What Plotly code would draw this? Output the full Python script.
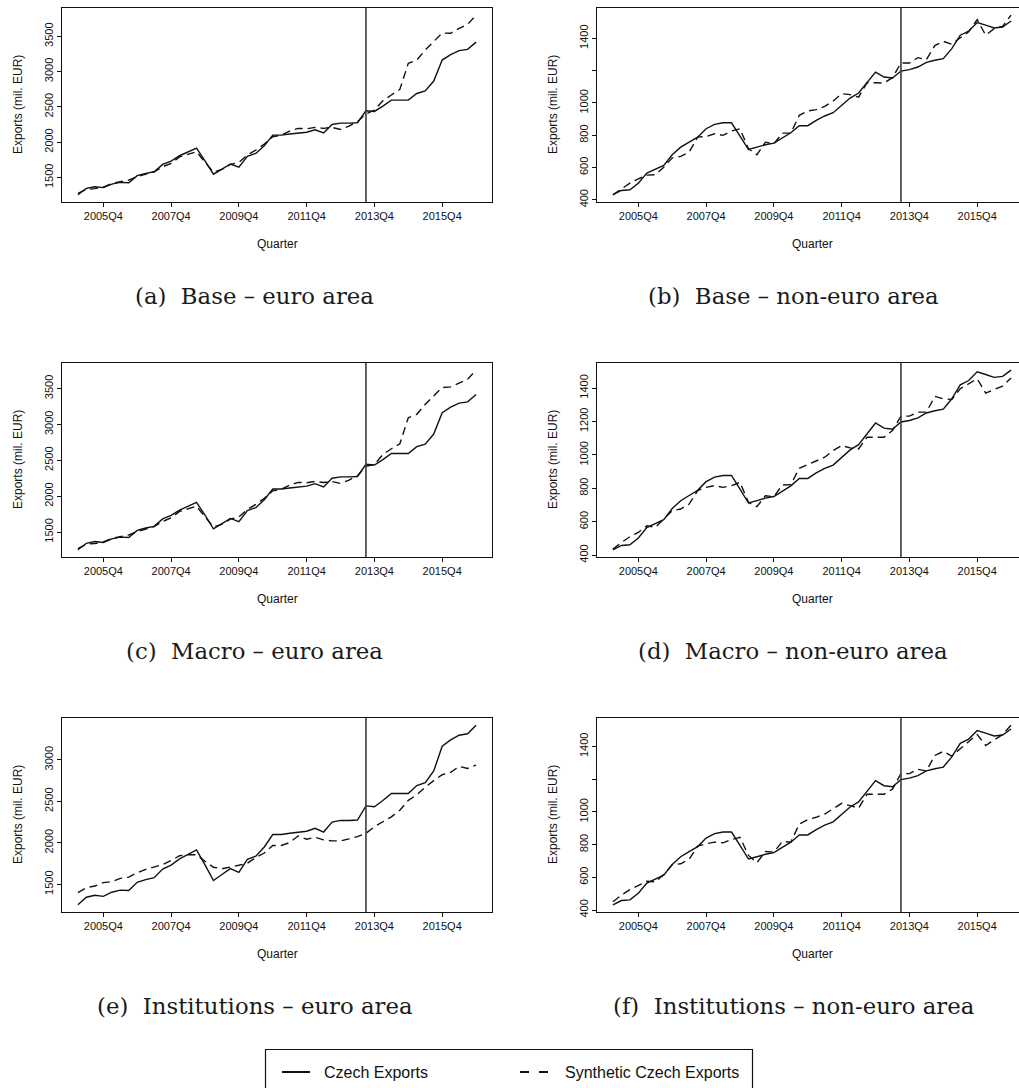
import plotly.graph_objects as go

W, H = 1019, 1088

# Quarterly time axis, 2005Q1 - 2016Q4
quarters = [f"{y}Q{q}" for y in range(2005, 2017) for q in range(1, 5)]
tick_quarters = ["2005Q4", "2007Q4", "2009Q4", "2011Q4", "2013Q4", "2015Q4"]
treatment_quarter = "2013Q3"

# Czech exports (mil. EUR)
czech_euro = [1253, 1344, 1368, 1355, 1405, 1430, 1425, 1524, 1557, 1580, 1684, 1732,
              1807, 1864, 1915, 1735, 1545, 1618, 1690, 1645, 1800, 1840, 1950, 2100,
              2100, 2115, 2125, 2140, 2175, 2130, 2250, 2270, 2270, 2275, 2445, 2435,
              2510, 2595, 2595, 2595, 2690, 2725, 2866, 3164, 3240, 3297, 3315, 3418]
czech_noneuro = [432, 458, 462, 503, 565, 588, 613, 679, 726, 757, 788, 840,
                 867, 877, 877, 795, 712, 726, 741, 751, 784, 815, 859, 859,
                 892, 919, 939, 985, 1030, 1061, 1123, 1191, 1160, 1154, 1197, 1206,
                 1222, 1251, 1264, 1274, 1336, 1419, 1445, 1497, 1481, 1464, 1470, 1507]

# Synthetic Czech exports (mil. EUR)
synth_base_euro = [1273, 1330, 1340, 1363, 1415, 1440, 1462, 1510, 1547, 1580, 1650, 1700,
                   1790, 1830, 1864, 1715, 1575, 1613, 1684, 1713, 1817, 1888, 1973, 2077,
                   2100, 2157, 2195, 2190, 2209, 2195, 2209, 2180, 2228, 2290, 2398, 2455,
                   2588, 2668, 2748, 3117, 3164, 3306, 3424, 3547, 3543, 3613, 3670, 3800]
synth_base_noneuro = [431, 468, 503, 530, 553, 555, 602, 660, 669, 695, 788, 792,
                      809, 799, 826, 840, 716, 679, 757, 747, 813, 813, 923, 950,
                      958, 979, 1012, 1057, 1051, 1036, 1125, 1125, 1123, 1156, 1247, 1247,
                      1280, 1268, 1355, 1381, 1363, 1403, 1440, 1516, 1419, 1460, 1474, 1543]
synth_macro_euro = [1270, 1332, 1342, 1362, 1413, 1438, 1460, 1508, 1545, 1578, 1648, 1698,
                    1788, 1828, 1860, 1712, 1572, 1610, 1682, 1710, 1815, 1885, 1970, 2075,
                    2098, 2155, 2192, 2188, 2206, 2192, 2205, 2178, 2225, 2285, 2418, 2442,
                    2582, 2661, 2731, 3094, 3141, 3281, 3397, 3514, 3523, 3575, 3630, 3756]
synth_macro_noneuro = [436, 476, 510, 536, 576, 566, 616, 666, 676, 706, 786, 806,
                       816, 806, 816, 836, 716, 690, 756, 750, 820, 822, 920, 942,
                       962, 986, 1026, 1056, 1042, 1036, 1106, 1106, 1106, 1146, 1232, 1232,
                       1256, 1256, 1350, 1336, 1332, 1396, 1426, 1456, 1370, 1390, 1412, 1460]
synth_inst_euro = [1401, 1460, 1480, 1520, 1532, 1571, 1587, 1639, 1679, 1706, 1738, 1786,
                   1845, 1857, 1857, 1778, 1706, 1687, 1706, 1730, 1754, 1825, 1877, 1968,
                   1968, 2004, 2083, 2044, 2067, 2036, 2024, 2024, 2048, 2075, 2115, 2194,
                   2254, 2313, 2393, 2512, 2579, 2671, 2750, 2821, 2849, 2921, 2897, 2937]
synth_inst_noneuro = [451, 491, 525, 548, 576, 572, 617, 677, 683, 710, 791, 805,
                      815, 811, 831, 845, 734, 689, 758, 754, 819, 815, 926, 953,
                      967, 987, 1021, 1052, 1038, 1023, 1108, 1108, 1108, 1139, 1234, 1234,
                      1260, 1250, 1345, 1370, 1341, 1386, 1432, 1473, 1406, 1438, 1473, 1530]

# y-axis tick values per panel; labels listed in hidden are left blank
euro_ticks = [1500, 2000, 2500, 3000, 3500]
noneuro_ticks = [400, 600, 800, 1000, 1200, 1400]

captions = ["(a)\u00a0\u00a0Base – euro area", "(b)\u00a0\u00a0Base – non-euro area",
            "(c)\u00a0\u00a0Macro – euro area", "(d)\u00a0\u00a0Macro – non-euro area",
            "(e)\u00a0\u00a0Institutions – euro area", "(f)\u00a0\u00a0Institutions – non-euro area"]

panels = [
    dict(actual=czech_euro, synth=synth_base_euro, yticks=euro_ticks, hidden=[]),
    dict(actual=czech_noneuro, synth=synth_base_noneuro, yticks=noneuro_ticks, hidden=[1200]),
    dict(actual=czech_euro, synth=synth_macro_euro, yticks=euro_ticks, hidden=[]),
    dict(actual=czech_noneuro, synth=synth_macro_noneuro, yticks=noneuro_ticks, hidden=[]),
    dict(actual=czech_euro, synth=synth_inst_euro, yticks=[1500, 2000, 2500, 3000], hidden=[]),
    dict(actual=czech_noneuro, synth=synth_inst_noneuro, yticks=noneuro_ticks, hidden=[1200]),
]

# Panel frame geometry in pixels
col_left = [62, 597]
box_w = 430
row_top = [8, 363, 718]
box_h = 194
caption_y = [296, 651, 1006]
caption_x = [255, 793]

AX_FONT = dict(family="Liberation Sans, Arial, sans-serif", size=11, color="#111")
TITLE_FONT = dict(family="Liberation Sans, Arial, sans-serif", size=12, color="#111")
LINE = "#111"


def fx(px):
    return px / W


def fy(py):
    return 1 - py / H


x_vals = list(range(len(quarters)))
n = len(quarters)
xpad = 0.04 * (n - 1)
x_lo, x_hi = -xpad, (n - 1) + xpad
tick_idx = [quarters.index(q) for q in tick_quarters]
treat_idx = quarters.index(treatment_quarter)

fig = go.Figure()
layout = dict(width=W, height=H, margin=dict(l=0, r=0, t=0, b=0, autoexpand=False),
              paper_bgcolor="white", plot_bgcolor="white", showlegend=False)
shapes = []
annotations = []

for k, p in enumerate(panels):
    row, col = divmod(k, 2)
    sfx = "" if k == 0 else str(k + 1)
    xa, ya = "x" + sfx, "y" + sfx

    left = col_left[col]
    right_full = left + box_w
    right = min(right_full, W)
    top = row_top[row]
    bottom = top + box_h
    # clip the range where the frame runs past the page edge
    frac = (right - left) / box_w
    xr = [x_lo, x_lo + frac * (x_hi - x_lo)]

    allv = p["actual"] + p["synth"]
    vmin, vmax = min(allv), max(allv)
    ypad = 0.04 * (vmax - vmin)

    fig.add_trace(go.Scatter(x=x_vals, y=p["actual"], mode="lines", xaxis=xa, yaxis=ya,
                             name="Czech Exports",
                             line=dict(color=LINE, width=1.4)))
    fig.add_trace(go.Scatter(x=x_vals, y=p["synth"], mode="lines", xaxis=xa, yaxis=ya,
                             name="Synthetic Czech Exports",
                             line=dict(color=LINE, width=1.4, dash="8px,5px")))

    layout["xaxis" + sfx] = dict(
        domain=[fx(left), fx(right)], anchor=ya, range=xr,
        tickmode="array", tickvals=tick_idx, ticktext=tick_quarters,
        ticks="outside", ticklen=4, tickcolor="#111", tickwidth=1,
        showline=True, linecolor="#111", linewidth=1, mirror=True,
        showgrid=False, zeroline=False, tickfont=AX_FONT, fixedrange=True)
    layout["yaxis" + sfx] = dict(
        domain=[fy(bottom), fy(top)], anchor=xa, range=[vmin - ypad, vmax + ypad],
        tickmode="array", tickvals=p["yticks"],
        ticktext=["" if t in p["hidden"] else str(t) for t in p["yticks"]],
        tickangle=-90, ticks="outside", ticklen=4, tickcolor="#111", tickwidth=1,
        showline=True, linecolor="#111", linewidth=1, mirror=(right == right_full),
        showgrid=False, zeroline=False, tickfont=AX_FONT, fixedrange=True)

    # treatment date marker
    shapes.append(dict(type="line", xref=xa, yref=ya + " domain",
                       x0=treat_idx, x1=treat_idx, y0=0, y1=1,
                       line=dict(color="#3a3a3a", width=1.6)))

    # axis titles
    annotations.append(dict(text="Quarter", xref="paper", yref="paper",
                            x=fx((left + right_full) / 2), y=fy(bottom + 42),
                            xanchor="center", yanchor="middle", showarrow=False,
                            font=TITLE_FONT))
    annotations.append(dict(text="Exports (mil. EUR)", xref="paper", yref="paper",
                            x=fx(left - 44), y=fy((top + bottom) / 2), textangle=-90,
                            xanchor="center", yanchor="middle", showarrow=False,
                            font=TITLE_FONT))
    # sub-figure caption
    annotations.append(dict(text=captions[k], xref="paper", yref="paper",
                            x=fx(caption_x[col]), y=fy(caption_y[row]),
                            xanchor="center", yanchor="middle", showarrow=False,
                            font=dict(family="DejaVu Serif, serif", size=22.8, color="#1a1a1a")))

# shared key at the bottom
shapes.append(dict(type="rect", xref="paper", yref="paper",
                   x0=fx(265.5), x1=fx(752.5), y0=fy(1100), y1=fy(1049.5),
                   line=dict(color="#111", width=1.2), fillcolor="rgba(0,0,0,0)"))
shapes.append(dict(type="line", xref="paper", yref="paper",
                   x0=fx(282), x1=fx(310), y0=fy(1072), y1=fy(1072),
                   line=dict(color=LINE, width=2)))
shapes.append(dict(type="line", xref="paper", yref="paper",
                   x0=fx(520), x1=fx(548), y0=fy(1072), y1=fy(1072),
                   line=dict(color=LINE, width=2, dash="9px,10px")))
annotations.append(dict(text="Czech Exports", xref="paper", yref="paper",
                        x=fx(322), y=fy(1072), xanchor="left", yanchor="middle",
                        showarrow=False,
                        font=dict(family="Liberation Sans, Arial, sans-serif", size=16, color="#111")))
annotations.append(dict(text="Synthetic Czech Exports", xref="paper", yref="paper",
                        x=fx(563), y=fy(1072), xanchor="left", yanchor="middle",
                        showarrow=False,
                        font=dict(family="Liberation Sans, Arial, sans-serif", size=16, color="#111")))

layout["shapes"] = shapes
layout["annotations"] = annotations
fig.update_layout(**layout)

fig.write_html("out.html")
